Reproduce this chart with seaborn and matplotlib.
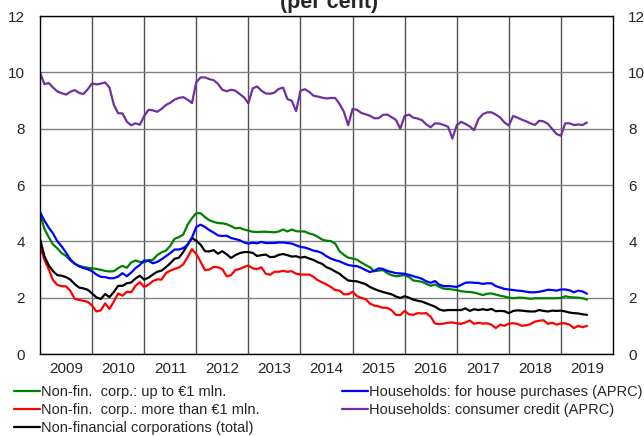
import matplotlib.pyplot as plt
import matplotlib.ticker as mticker
import pandas as pd
import seaborn as sns

sns.set_style("white")
plt.rcParams["font.family"] = ["Liberation Sans", "DejaVu Sans"]

# ---- data (monthly, Jan 2009 onwards, per cent) ----
YEARS = [str(y) for y in range(2009, 2020)]

nfc_small = [
    4.98, 4.45, 4.15, 3.89, 3.75, 3.58, 3.48, 3.32, 3.20, 3.13, 3.09, 3.06,
    3.04, 3.02, 2.99, 2.95, 2.93, 2.94, 3.05, 3.13, 3.06, 3.25, 3.32, 3.27,
    3.25, 3.33, 3.34, 3.51, 3.61, 3.67, 3.84, 4.09, 4.15, 4.24, 4.59, 4.82,
    5.00, 5.00, 4.86, 4.75, 4.69, 4.65, 4.64, 4.61, 4.54, 4.46, 4.48, 4.42,
    4.38, 4.34, 4.33, 4.34, 4.34, 4.33, 4.32, 4.35, 4.42, 4.35, 4.42, 4.36,
    4.35, 4.35, 4.28, 4.24, 4.16, 4.06, 4.02, 4.01, 3.92, 3.65, 3.52, 3.42,
    3.39, 3.35, 3.25, 3.16, 3.08, 2.94, 2.96, 2.98, 2.87, 2.80, 2.76, 2.78,
    2.80, 2.73, 2.61, 2.59, 2.56, 2.49, 2.42, 2.47, 2.38, 2.32, 2.31, 2.29,
    2.27, 2.23, 2.21, 2.20, 2.18, 2.14, 2.09, 2.14, 2.15, 2.11, 2.07, 2.04,
    2.00, 1.98, 2.00, 2.00, 1.98, 1.96, 1.98, 1.98, 1.98, 1.98, 1.98, 1.98,
    1.99, 2.05, 2.02, 2.01, 2.00, 1.98, 1.93,
]

nfc_large = [
    3.86, 3.35, 3.01, 2.62, 2.45, 2.41, 2.40, 2.24, 1.96, 1.92, 1.89, 1.85,
    1.72, 1.51, 1.55, 1.80, 1.60, 1.86, 2.15, 2.07, 2.21, 2.19, 2.42, 2.55,
    2.38, 2.46, 2.59, 2.65, 2.64, 2.87, 2.96, 3.02, 3.07, 3.18, 3.44, 3.72,
    3.55, 3.27, 2.98, 3.00, 3.09, 3.08, 3.01, 2.76, 2.80, 2.98, 3.02, 3.09,
    3.14, 3.04, 3.01, 3.08, 2.85, 2.81, 2.92, 2.92, 2.95, 2.92, 2.94, 2.85,
    2.82, 2.82, 2.82, 2.74, 2.62, 2.54, 2.47, 2.38, 2.27, 2.25, 2.12, 2.12,
    2.21, 2.06, 1.99, 1.95, 1.79, 1.72, 1.69, 1.64, 1.64, 1.55, 1.39, 1.38,
    1.53, 1.41, 1.39, 1.45, 1.44, 1.45, 1.32, 1.08, 1.06, 1.08, 1.11, 1.12,
    1.09, 1.07, 1.12, 1.19, 1.07, 1.11, 1.08, 1.09, 1.04, 0.92, 1.04, 1.00,
    1.08, 1.09, 1.07, 1.00, 1.02, 1.06, 1.15, 1.18, 1.20, 1.07, 1.11, 1.04,
    1.09, 1.09, 1.04, 0.92, 1.00, 0.95, 1.00,
]

nfc_total = [
    4.09, 3.48, 3.15, 2.94, 2.80, 2.78, 2.73, 2.64, 2.48, 2.36, 2.33, 2.28,
    2.15, 2.01, 1.95, 2.13, 2.02, 2.20, 2.42, 2.42, 2.51, 2.54, 2.68, 2.78,
    2.64, 2.71, 2.82, 2.92, 2.96, 3.08, 3.22, 3.38, 3.42, 3.62, 3.88, 4.12,
    4.02, 3.88, 3.65, 3.64, 3.69, 3.56, 3.65, 3.54, 3.41, 3.51, 3.58, 3.62,
    3.62, 3.59, 3.48, 3.51, 3.53, 3.44, 3.45, 3.52, 3.55, 3.51, 3.46, 3.47,
    3.42, 3.45, 3.39, 3.34, 3.26, 3.20, 3.08, 3.02, 2.93, 2.85, 2.72, 2.61,
    2.59, 2.58, 2.53, 2.48, 2.38, 2.31, 2.25, 2.20, 2.16, 2.12, 2.04, 1.99,
    2.05, 2.00, 1.93, 1.89, 1.86, 1.80, 1.74, 1.68, 1.58, 1.54, 1.56, 1.56,
    1.56, 1.56, 1.62, 1.53, 1.59, 1.56, 1.59, 1.56, 1.60, 1.52, 1.53, 1.52,
    1.45, 1.53, 1.55, 1.54, 1.52, 1.51, 1.51, 1.56, 1.53, 1.51, 1.54, 1.53,
    1.54, 1.51, 1.47, 1.45, 1.44, 1.41, 1.39,
]

hh_house = [
    5.04, 4.74, 4.49, 4.28, 4.00, 3.82, 3.60, 3.36, 3.21, 3.11, 3.05, 3.01,
    2.94, 2.82, 2.74, 2.73, 2.69, 2.69, 2.75, 2.87, 2.76, 2.89, 3.05, 3.16,
    3.32, 3.31, 3.22, 3.27, 3.36, 3.47, 3.58, 3.71, 3.71, 3.76, 3.88, 4.13,
    4.51, 4.59, 4.51, 4.40, 4.31, 4.21, 4.19, 4.20, 4.12, 4.08, 4.04, 3.96,
    3.92, 3.95, 3.93, 3.98, 3.94, 3.94, 3.94, 3.96, 3.96, 3.94, 3.92, 3.86,
    3.80, 3.78, 3.73, 3.67, 3.64, 3.58, 3.47, 3.39, 3.33, 3.29, 3.22, 3.16,
    3.13, 3.12, 3.06, 2.98, 2.91, 2.95, 3.04, 3.02, 2.95, 2.91, 2.87, 2.86,
    2.85, 2.81, 2.76, 2.72, 2.67, 2.58, 2.53, 2.59, 2.46, 2.41, 2.41, 2.40,
    2.38, 2.45, 2.53, 2.54, 2.53, 2.52, 2.49, 2.51, 2.51, 2.41, 2.36, 2.31,
    2.29, 2.27, 2.25, 2.24, 2.21, 2.19, 2.19, 2.21, 2.24, 2.28, 2.27, 2.25,
    2.29, 2.29, 2.26, 2.19, 2.25, 2.22, 2.14,
]

hh_consumer = [
    10.00, 9.58, 9.62, 9.46, 9.32, 9.26, 9.21, 9.31, 9.37, 9.27, 9.23, 9.40,
    9.61, 9.57, 9.60, 9.64, 9.46, 8.85, 8.55, 8.54, 8.25, 8.12, 8.19, 8.14,
    8.45, 8.67, 8.65, 8.60, 8.70, 8.84, 8.92, 9.03, 9.09, 9.12, 9.03, 8.91,
    9.65, 9.82, 9.82, 9.76, 9.72, 9.59, 9.38, 9.33, 9.38, 9.35, 9.23, 9.11,
    8.90, 9.43, 9.50, 9.35, 9.25, 9.24, 9.28, 9.41, 9.46, 9.05, 8.99, 8.62,
    9.35, 9.40, 9.31, 9.17, 9.14, 9.10, 9.07, 9.09, 9.09, 8.88, 8.60, 8.12,
    8.70, 8.67, 8.56, 8.51, 8.46, 8.37, 8.37, 8.49, 8.50, 8.41, 8.31, 8.00,
    8.45, 8.50, 8.39, 8.36, 8.30, 8.15, 8.05, 8.19, 8.18, 8.13, 8.07, 7.65,
    8.12, 8.24, 8.17, 8.08, 7.95, 8.34, 8.51, 8.58, 8.58, 8.50, 8.40, 8.22,
    8.11, 8.45, 8.39, 8.32, 8.26, 8.19, 8.13, 8.28, 8.26, 8.17, 7.99, 7.81,
    7.75, 8.19, 8.19, 8.13, 8.15, 8.13, 8.22,
]

SERIES = [
    ("Non-fin.  corp.: up to \u20ac1 mln.", nfc_small, "#008000"),
    ("Non-fin.  corp.: more than \u20ac1 mln.", nfc_large, "#FF0000"),
    ("Non-financial corporations (total)", nfc_total, "#000000"),
    ("Households: for house purchases (APRC)", hh_house, "#0000FF"),
    ("Households: consumer credit (APRC)", hh_consumer, "#7030A0"),
]

rows = []
for name, vals, _ in SERIES:
    for i, v in enumerate(vals):
        rows.append({"month": i, "rate": v, "series": name})
df = pd.DataFrame(rows)

# ---- figure ----
fig = plt.figure(figsize=(6.44, 4.36), dpi=100)
ax = fig.add_axes([40 / 644, 1 - 354 / 436, 573 / 644, 338 / 436])

for name, _, color in SERIES:
    sns.lineplot(
        data=df[df["series"] == name],
        x="month",
        y="rate",
        color=color,
        lw=1.6,
        label=name,
        ax=ax,
    )

ax.set_xlim(0, 132)
ax.set_ylim(0, 12)
ax.set_yticks(range(0, 13, 2))
ax.yaxis.grid(True, color="#808080", lw=1)
for k in range(1, 11):
    ax.axvline(12 * k, color="#505050", lw=1, zorder=0.5)

ax.set_xticks([12 * k + 6 for k in range(11)])
ax.set_xticklabels(YEARS)
ax.xaxis.set_minor_locator(mticker.MultipleLocator(1))
ax.tick_params(axis="x", which="major", direction="in", length=5, width=0.8,
               pad=6, labelsize=11, color="#333333")
ax.tick_params(axis="x", which="minor", direction="in", length=2.5, width=0.8,
               color="#333333")
ax.tick_params(axis="y", length=0, pad=11, labelsize=11,
               labelleft=True, labelright=True)
ax.set_xlabel("")
ax.set_ylabel("")
for s in ax.spines.values():
    s.set_color("black")
    s.set_linewidth(1)

handles, labels = ax.get_legend_handles_labels()
ax.get_legend().remove()
fig.legend(
    handles,
    labels,
    loc="upper left",
    bbox_to_anchor=(14 / 644, 1 - 385 / 436),
    ncol=2,
    frameon=False,
    fontsize=10.5,
    handlelength=1.78,
    handletextpad=0.1,
    columnspacing=5.6,
    labelspacing=0.27,
    borderpad=0,
    borderaxespad=0,
)

fig.text(329.5 / 644, 1 - 8 / 436, "(per cent)", ha="center", va="baseline",
         fontsize=15.5, fontweight="bold")

fig.savefig("out.png", dpi=100)
